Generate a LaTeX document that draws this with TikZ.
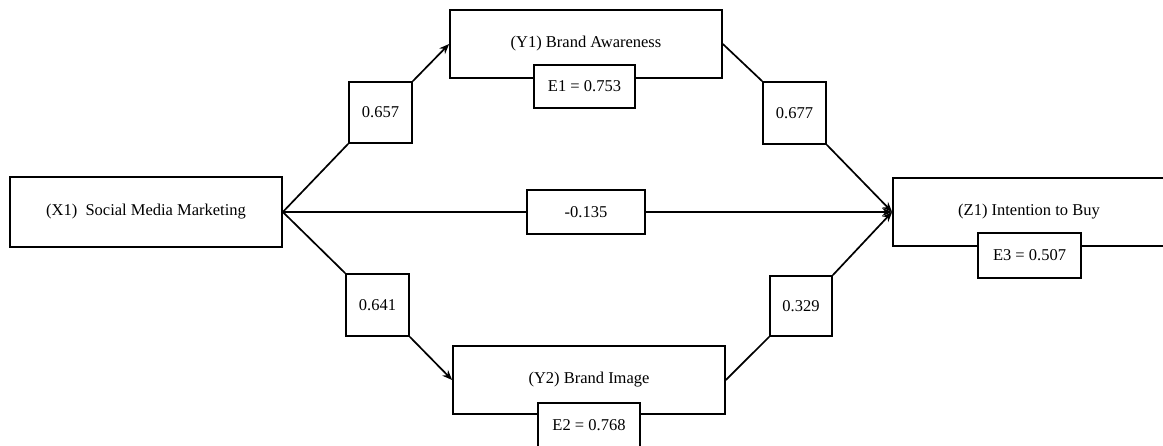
\documentclass[tikz,border=0pt]{standalone}
\usepackage{fontspec}
\setmainfont{Liberation Serif}
\usetikzlibrary{arrows.meta}
\begin{document}
\begin{tikzpicture}[x=1pt,y=-1pt,
  box/.style={draw,line width=1.7pt,fill=white,font=\fontsize{16.5}{19}\selectfont,inner sep=0pt},
  conn/.style={line width=1.7pt},
  arr/.style={conn,-{Stealth[length=10pt,width=8pt]}}]
\useasboundingbox (0,0) rectangle (1163,446);
% main nodes
\node[box,minimum width=272pt,minimum height=70pt] (X1) at (146,212) {(X1)\ \ Social Media Marketing};
\node[box,minimum width=272pt,minimum height=68pt] (Y1) at (586,44) {(Y1) Brand Awareness};
\node[box,minimum width=272pt,minimum height=68pt] (Y2) at (589,380) {(Y2) Brand Image};
\node[box,minimum width=290pt,minimum height=68pt] (Z1) at (1038,212) {\hspace*{-18pt}(Z1) Intention to Buy};
% error boxes
\node[box,minimum width=101pt,minimum height=43pt] (E1) at (584.5,86.5) {E1 = 0.753};
\node[box,minimum width=102pt,minimum height=44pt] (E2) at (589,425) {E2 = 0.768};
\node[box,minimum width=103pt,minimum height=45pt] (E3) at (1029.5,255.5) {E3 = 0.507};
% coefficient boxes
\node[box,minimum width=63pt,minimum height=61pt] (c1) at (380.5,112.5) {0.657};
\node[box,minimum width=63pt,minimum height=62pt] (c2) at (377.5,305) {0.641};
\node[box,minimum width=63pt,minimum height=62pt] (c3) at (794.5,113) {0.677};
\node[box,minimum width=62pt,minimum height=60pt] (c4) at (801,306) {0.329};
\node[box,minimum width=118pt,minimum height=44pt] (c5) at (586,212) {-0.135};
% connectors
\draw[conn] (X1.east) -- (c1.south west);
\draw[arr] (c1.north east) -- (Y1.west);
\draw[conn] (X1.east) -- (c2.north west);
\draw[arr] (c2.south east) -- (Y2.west);
\draw[conn] (Y1.east) -- (c3.north west);
\draw[arr] (c3.south east) -- (Z1.west);
\draw[conn] (Y2.east) -- (c4.south west);
\draw[arr] (c4.north east) -- (Z1.west);
\draw[conn] (X1.east) -- (c5.west);
\draw[arr] (c5.east) -- (Z1.west);
\end{tikzpicture}
\end{document}
